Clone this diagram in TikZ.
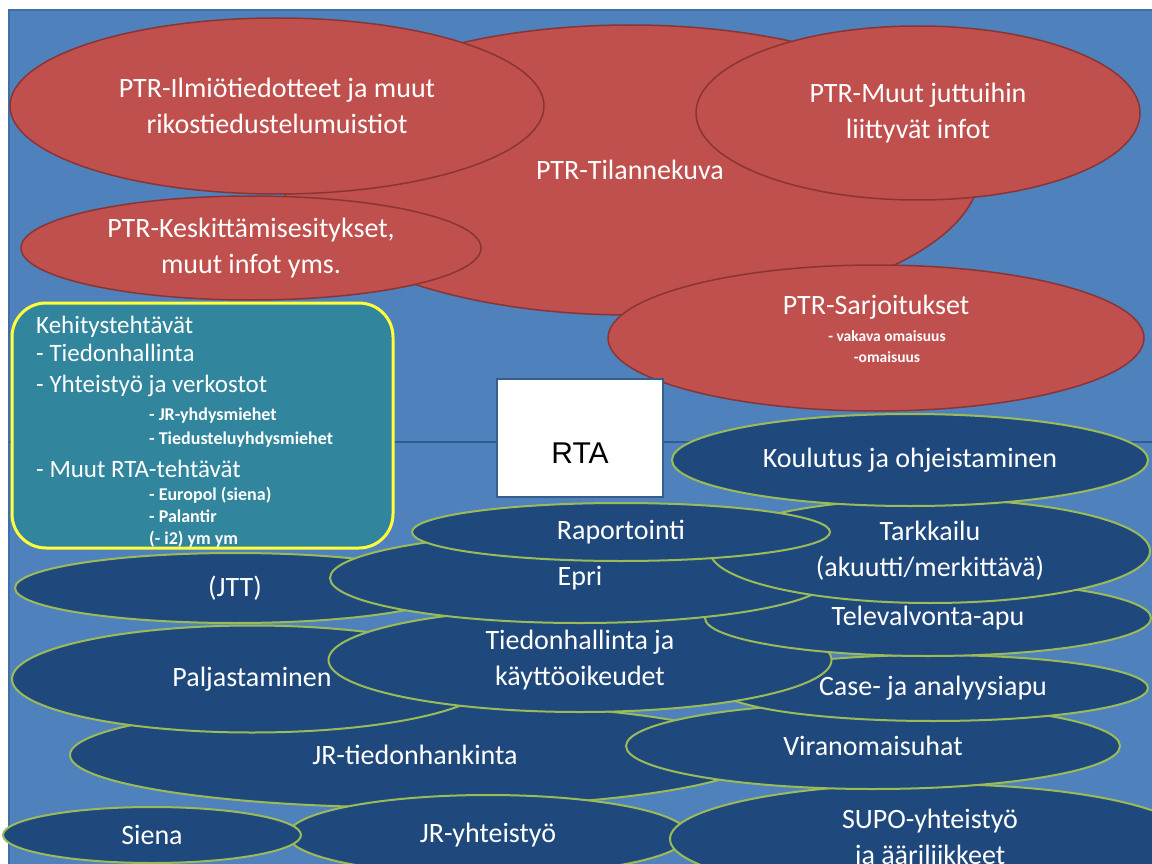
\documentclass[tikz,border=0pt]{standalone}
\usepackage{fontspec}
\setmainfont{Carlito}
\newfontfamily\boxfont{Liberation Sans}
\usetikzlibrary{shapes.geometric}

\definecolor{slide}{HTML}{4F81BD}
\definecolor{slideedge}{HTML}{3F6EA8}
\definecolor{divider}{HTML}{2E5D93}
\definecolor{redfill}{HTML}{C0504D}
\definecolor{redline}{HTML}{8A3533}
\definecolor{navy}{HTML}{1F497D}
\definecolor{olive}{HTML}{9BBB59}
\definecolor{tealbox}{HTML}{31859C}
\definecolor{framey}{HTML}{FFFF3A}
\definecolor{rtaedge}{HTML}{385D8A}

\tikzset{
  bigfont/.style={font=\fontsize{28}{36}\selectfont},
  redov/.style={ellipse, draw=redline, fill=redfill, line width=1.5pt,
    inner sep=0pt, text=white, align=center, bigfont},
  blueov/.style={ellipse, draw=olive, fill=navy, line width=2pt,
    inner sep=0pt, text=white, align=center, bigfont},
  mainitem/.style={anchor=base west, inner sep=0pt, text=white,
    font=\fontsize{25}{28}\selectfont},
  subitem/.style={anchor=base west, inner sep=0pt, text=white,
    font=\fontsize{18}{20}\selectfont\bfseries},
  smallred/.style={anchor=base, inner sep=0pt, text=white,
    font=\fontsize{15.5}{18}\selectfont\bfseries},
}

\begin{document}
\begin{tikzpicture}[x=1pt,y=-1pt]
\useasboundingbox (0,0) rectangle (1152,864);
\fill[white] (0,0) rectangle (1152,864);
\fill[slide] (9,10) rectangle (1152,864);
\draw[slideedge, line width=1.5pt] (9,864) -- (9,10) -- (1152,10);

% divider line across the slide
\coordinate (lineL) at (9,442);
\coordinate (lineR) at (1152,442);
\draw[divider, line width=2.5pt] (lineL) -- (lineR);

% red PTR ellipses
\node[redov, minimum width=700pt, minimum height=290pt] (tilanne) at (630,170) {PTR-Tilannekuva};
\node[redov, minimum width=534pt, minimum height=176pt] (ilmio) at (277,106) {PTR-Ilmiötiedotteet ja muut\\rikostiedustelumuistiot};
\node[redov, minimum width=460pt, minimum height=104pt] (keskit) at (251,248) {PTR-Keskittämisesitykset,\\muut infot yms.};
\node[redov, minimum width=444pt, minimum height=174pt] (muut) at (918,113) {PTR-Muut juttuihin\\liittyvät infot};
\node[redov, minimum width=536pt, minimum height=146pt] (sarja) at (876,338) {};
\node[anchor=base, inner sep=0pt, text=white, bigfont] (sarjaT) at (876,314) {PTR-Sarjoitukset};
\node[smallred] (sarjaA) at (887,341) {- vakava omaisuus};
\node[smallred] (sarjaB) at (887,362) {-omaisuus};

% development tasks box
\node[rectangle, rounded corners=34pt, draw=framey, fill=tealbox, line width=3pt,
      minimum width=381pt, minimum height=245pt] (kehitys) at (202.5,425.5) {};
\node[mainitem] (k1) at (36,333) {Kehitystehtävät};
\node[mainitem] (k2) at (36,361) {- Tiedonhallinta};
\node[mainitem] (k3) at (36,392) {- Yhteistyö ja verkostot};
\node[subitem] (k4) at (149,420) {- JR-yhdysmiehet};
\node[subitem] (k5) at (149,444) {- Tiedusteluyhdysmiehet};
\node[mainitem] (k6) at (36,477) {- Muut RTA-tehtävät};
\node[subitem] (k7) at (149,500) {- Europol (siena)};
\node[subitem] (k8) at (149,522) {- Palantir};
\node[subitem] (k9) at (149,544) {(- i2) ym ym};

% RTA box, its label set below the middle
\node[rectangle, draw=rtaedge, fill=white, line width=1.5pt, minimum width=166pt,
      minimum height=118pt, text height=51pt, text depth=0pt,
      font=\boxfont\fontsize{30}{34}\selectfont] (rta) at (580,438) {RTA};

% blue task ellipses
\node[blueov, minimum width=690pt, minimum height=105pt] (jrtied) at (415,755) {JR-tiedonhankinta};
\node[blueov, minimum width=400pt, minimum height=80pt] (jryht) at (488,835) {JR-yhteistyö};
\node[blueov, minimum width=298pt, minimum height=56pt] (siena) at (152,835) {Siena};
\node[blueov, minimum width=480pt, minimum height=107pt] (palj) at (252,679) {Paljastaminen};
\node[blueov, minimum width=440pt, minimum height=70pt] (jtt) at (235,588) {(JTT)};
\node[blueov, minimum width=520pt, minimum height=110pt] (supo) at (930,839) {SUPO-yhteistyö\\ja ääriliikkeet};
\node[blueov, minimum width=494pt, minimum height=86pt] (viran) at (873,746) {Viranomaisuhat};
\node[blueov, minimum width=430pt, minimum height=66pt] (case) at (933,688) {Case- ja analyysiapu};
\node[blueov, minimum width=503pt, minimum height=104pt] (tiedon) at (580,660) {Tiedonhallinta ja\\käyttöoikeudet};
\node[blueov, minimum width=446pt, minimum height=76pt] (telev) at (928,618) {Televalvonta-apu};
\node[blueov, minimum width=500pt, minimum height=90pt] (epri) at (580,578) {Epri};
\node[blueov, minimum width=440pt, minimum height=104pt] (tarkk) at (930,551) {Tarkkailu\\(akuutti/merkittävä)};
\node[blueov, minimum width=418pt, minimum height=58pt] (raport) at (621,532) {Raportointi};
\node[blueov, minimum width=476pt, minimum height=92pt] (koulu) at (910,460) {Koulutus ja ohjeistaminen};
\end{tikzpicture}
\end{document}
